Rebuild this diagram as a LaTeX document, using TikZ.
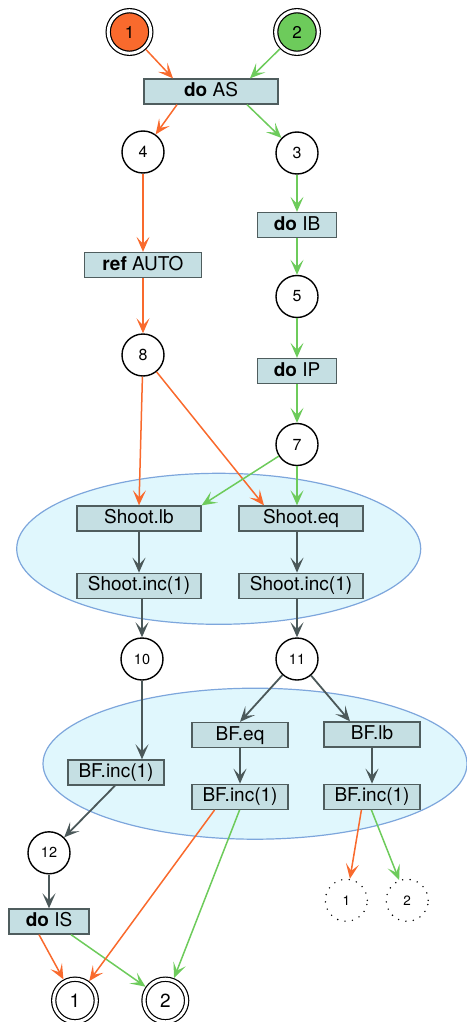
\documentclass[tikz,border=0pt]{standalone}
\usepackage{fontspec}
\setmainfont{TeX Gyre Heros}
\usetikzlibrary{arrows.meta,calc,shapes.geometric}
\definecolor{orng}{HTML}{F96A2D}
\definecolor{grn}{HTML}{6DCB5B}
\definecolor{slate}{HTML}{4B5859}
\definecolor{boxfill}{HTML}{C5DFE3}
\definecolor{boxline}{HTML}{4F5D5E}
\definecolor{zonefill}{HTML}{E0F7FD}
\definecolor{zoneline}{HTML}{7DA6DC}
\tikzset{
  act/.style={draw=boxline, fill=boxfill, line width=1.3pt, minimum height=25pt,
    inner sep=0pt, text height=13.5pt, text depth=3.5pt, font=\fontsize{19}{21}\selectfont},
  st/.style={circle, draw=black, fill=white, line width=1.4pt, minimum size=42pt,
    inner sep=0pt, font=\fontsize{16}{18}\selectfont},
  sst/.style={st, font=\fontsize{14.5}{16}\selectfont},
  term/.style={circle, draw=black, line width=1.2pt, double=white, double distance=3pt,
    minimum size=42.6pt, inner sep=0pt, outer sep=2.8pt},
  ghost/.style={circle, draw=black, line width=1.6pt, dash pattern=on 0pt off 7.5pt,
    line cap=round, minimum size=42pt, inner sep=0pt, font=\fontsize{13.5}{15}\selectfont},
  zone/.style={ellipse, draw=zoneline, fill=zonefill, line width=1.2pt, inner sep=0pt},
  head/.style={-{Stealth[length=15pt,width=13pt,inset=7pt]}},
  eo/.style={head, draw=orng, fill=orng, line width=1.5pt},
  eg/.style={head, draw=grn, fill=grn, line width=1.5pt},
  es/.style={head, draw=slate, fill=slate, line width=1.8pt},
}
\begin{document}
\begin{tikzpicture}[x=1pt,y=-1pt]
\useasboundingbox (0,0) rectangle (466,1022);

% grouping regions
\node[zone, minimum width=404pt, minimum height=151pt] (zoneA) at (218.7,548.8) {};
\node[zone, minimum width=424pt, minimum height=151pt] (zoneB) at (255,763.7) {};

% start states
\node[term, fill=orng, font=\fontsize{17}{19}\selectfont] (s1) at (129.5,32) {1};
\node[term, fill=grn, font=\fontsize{17}{19}\selectfont] (s2) at (297,32) {2};

% actions and states
\node[act, minimum width=134pt] (doAS) at (211,91.5) {\textbf{do} AS};
\node[st] (n4) at (143,152) {4};
\node[st] (n3) at (297,153) {3};
\node[act, minimum width=79pt] (doIB) at (297,225) {\textbf{do} IB};
\node[act, minimum width=117pt] (refAUTO) at (143,265) {\textbf{ref} AUTO};
\node[st] (n5) at (297,296.5) {5};
\node[st] (n8) at (143,355) {8};
\node[act, minimum width=79pt] (doIP) at (297,371) {\textbf{do} IP};
\node[st] (n7) at (297,444.5) {7};

\node[act, minimum width=124pt] (shlb) at (139,518.5) {Shoot.lb};
\node[act, minimum width=124pt] (sheq) at (301,518.5) {Shoot.eq};
\node[act, minimum width=124pt] (shil) at (139,585.8) {Shoot.inc(1)};
\node[act, minimum width=124pt] (shir) at (301,585.8) {Shoot.inc(1)};

\node[sst] (n10) at (142,659) {10};
\node[sst] (n11) at (297,659) {11};

\node[act, minimum width=96pt] (bfe) at (240,735) {BF.eq};
\node[act, minimum width=96pt] (bflb) at (372,734.5) {BF.lb};
\node[act, minimum width=96pt] (bfl) at (116,772.5) {BF.inc(1)};
\node[act, minimum width=96pt] (bfim) at (240,796.8) {BF.inc(1)};
\node[act, minimum width=96pt] (bfir) at (372,796.8) {BF.inc(1)};

\node[sst] (n12) at (49,852.8) {12};
\node[act, minimum width=80pt] (doIS) at (49,921.5) {\textbf{do} IS};

\node[ghost] (d1) at (346.3,900.3) {1};
\node[ghost] (d2) at (407.2,900.3) {2};

\node[term, fill=white, font=\fontsize{19}{21}\selectfont] (f1) at (75,1000.5) {1};
\node[term, fill=white, font=\fontsize{19}{21}\selectfont] (f2) at (165.3,1000.5) {2};

% orange path
\draw[eo] (s1) -- ($(doAS.north)+(-38,0)$);
\draw[eo] ($(doAS.south)+(-34,0)$) -- (n4);
\draw[eo] (n4) -- (n4 |- refAUTO.north);
\draw[eo] (refAUTO) -- (n8);
\draw[eo] (n8) -- (shlb.north);
\draw[eo] (n8) -- ($(sheq.north)+(-37,0)$);

% green path
\draw[eg] (s2) -- ($(doAS.north)+(39,0)$);
\draw[eg] ($(doAS.south)+(36,0)$) -- (n3);
\draw[eg] (n3) -- (n3 |- doIB.north);
\draw[eg] (doIB) -- (n5);
\draw[eg] (n5) -- (n5 |- doIP.north);
\draw[eg] (doIP) -- (n7);
\draw[eg] (n7) -- (shlb.north east);
\draw[eg] (n7) -- (n7 |- sheq.north);

% shared steps
\draw[es] (shlb) -- (shil);
\draw[es] (sheq.south -| n7) -- (n7 |- shir.north);
\draw[es] (n10 |- shil.south) -- (n10);
\draw[es] (n11 |- shir.south) -- (n11);
\draw[es] (n10) -- (n10 |- bfl.north);
\draw[es] (n11) -- (bfe.north);
\draw[es] (n11) -- ($(bflb.north)+(-22,0)$);
\draw[es] (bfe) -- (bfim);
\draw[es] (bflb) -- (bfir);
\draw[es] ($(bfl.south)+(-1,0)$) -- (n12);
\draw[es] (n12) -- (n12 |- doIS.north);

% back to the start states
\draw[eo] ($(doIS.south)+(-10,0)$) -- (f1);
\draw[eg] ($(doIS.south)+(22,0)$) -- (f2);
\draw[eo] ($(bfim.south)+(-25.4,0)$) -- (f1);
\draw[eg] ($(bfim.south)+(-0.4,0)$) -- (f2);
\draw[eo] ($(bfir.south)+(-10.6,0)$) -- (d1);
\draw[eg] ($(bfir.south)+(-0.6,0)$) -- (d2);
\end{tikzpicture}
\end{document}
